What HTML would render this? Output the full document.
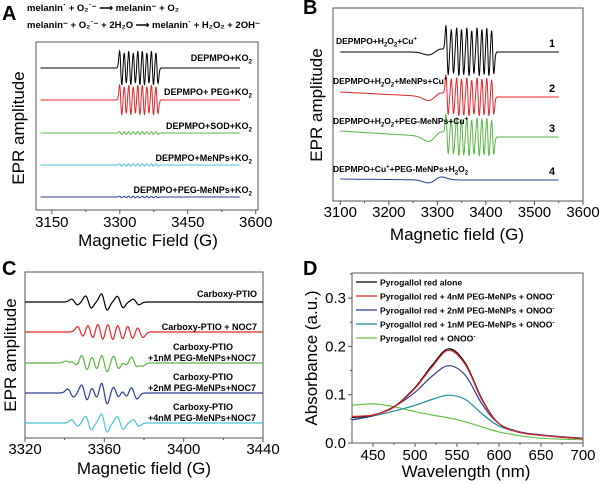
<!DOCTYPE html>
<html><head><meta charset="utf-8"><style>
html,body{margin:0;padding:0;background:#fff}
svg{display:block;font-family:"Liberation Sans",Arial,sans-serif}
.b{font-weight:bold}
</style></head><body>
<svg id="fig" width="600" height="484" viewBox="0 0 600 484" xmlns="http://www.w3.org/2000/svg">
<g>
<text x="2" y="20" font-size="20" class="b">A</text>
<text x="27" y="11" font-size="9.5" class="b">melanin˙ + O₂˙⁻ ⟶ melanin⁻ + O₂</text>
<text x="27" y="28" font-size="9.5" class="b">melanin⁻ + O₂˙⁻ + 2H₂O ⟶ melanin˙ + H₂O₂ + 2OH⁻</text>
</g>
<text x="3" y="14" font-size="20" class="b" transform="translate(300,0)">B</text>
<text x="2" y="275" font-size="20" class="b">C</text>
<text x="303" y="275" font-size="20" class="b">D</text>
<g id="plots"></g>
</svg>
<script>
// ---------- Panel A data ----------
const aLines = [3302,3312,3322,3332,3342,3352,3362,3372,3382];
const aIntensity = [1.0,0.9,1.0,0.9,1.0,1.0,0.9,1.0,0.9];
const aTraceAmp = [17,15,1.5,1.2,0.8];
const aLabels = ["DEPMPO+KO_2","DEPMPO+ PEG+KO_2","DEPMPO+SOD+KO_2","DEPMPO+MeNPs+KO_2","DEPMPO+PEG-MeNPs+KO_2"];
const aTicks = [3150,3300,3450,3600];
// ---------- Panel B data ----------
const bLines = [3320,3331,3342,3352,3363,3373,3384,3394,3404,3414];
const bIntensity = [1.0,0.9,1.0,0.95,1.0,0.9,1.0,0.95,1.0,0.9];
const bTraceAmp = [24,19,19,0];
const bBroadAmp = [3,4,5,3];
const bSlope = [0,5,6,1];
const bLabels = ["DEPMPO+H_2O_2+Cu^+","DEPMPO+H_2O_2+MeNPs+Cu^+","DEPMPO+H_2O_2+PEG-MeNPs+Cu^+","DEPMPO+Cu^++PEG-MeNPs+H_2O_2"];
const bTicks = [3100,3200,3300,3400,3500,3600];
// ---------- Panel C data ----------
const cBlackLines = [3345,3352,3360,3368,3376];
const cBlackAmp = [0.35,0.75,1.0,0.7,0.35];
const cRedLines = [3348,3353,3358,3363,3368,3373,3378];
const cRedAmp = [0.6,0.8,1.0,1.0,0.9,0.8,0.6];
const cGreenLines = [3342,3345,3350,3355,3360,3366,3370,3375,3378];
const cGreenAmp = [0.2,0.3,0.9,0.8,1.0,0.8,0.3,0.7,0.3];
const cBlueLines = [3343,3350,3355,3360,3366,3370,3375];
const cBlueAmp = [0.4,0.8,0.6,1.1,0.6,0.4,0.6];
const cLabels = [["Carboxy-PTIO"],["Carboxy-PTIO + NOC7"],["Carboxy-PTIO","+1nM PEG-MeNPs+NOC7"],["Carboxy-PTIO","+2nM PEG-MeNPs+NOC7"],["Carboxy-PTIO","+4nM PEG-MeNPs+NOC7"]];
const cTicks = [3320,3360,3400,3440];
// ---------- Panel D data ----------
const dWave = [425,450,475,500,520,540,560,580,600,625,650,675,700];
const dBlack = [0.053,0.058,0.075,0.115,0.160,0.195,0.165,0.090,0.040,0.022,0.016,0.012,0.009];
const dRed   = [0.055,0.058,0.074,0.113,0.157,0.192,0.162,0.088,0.040,0.022,0.016,0.012,0.009];
const dBlue  = [0.048,0.057,0.075,0.105,0.138,0.160,0.140,0.080,0.040,0.023,0.017,0.013,0.010];
const dTeal  = [0.048,0.056,0.066,0.078,0.090,0.099,0.090,0.060,0.035,0.022,0.016,0.012,0.010];
const dGreen = [0.078,0.081,0.075,0.065,0.058,0.052,0.044,0.033,0.023,0.015,0.010,0.008,0.007];
const dLegend = ["Pyrogallol red alone","Pyrogallol red + 4nM PEG-MeNPs + ONOO","Pyrogallol red + 2nM PEG-MeNPs + ONOO","Pyrogallol red + 1nM PEG-MeNPs + ONOO","Pyrogallol red + ONOO"];
const dXTicks = [450,500,550,600,650,700];
const dYTicks = [0.0,0.1,0.2,0.3];

const NS="http://www.w3.org/2000/svg";
const root=document.getElementById('plots');
function mk(tag,attrs,parent){const e=document.createElementNS(NS,tag);for(const k in attrs)e.setAttribute(k,attrs[k]);(parent||root).appendChild(e);return e;}
function deriv(x,lines,amps,w){let s=0;for(let i=0;i<lines.length;i++){const u=(x-lines[i])/w;s+=-amps[i]*u*Math.exp(-u*u/2)*1.65;}return s;}
function richText(parent,x,y,str,size,anchor){
  const t=mk('text',{x:x,y:y,'font-size':size,'font-weight':'bold','text-anchor':anchor||'end'},parent);
  let buf='', pending=0;
  const flush=()=>{if(buf){const a={};if(pending){a.dy=pending;pending=0;}const ts=mk('tspan',a,t);ts.textContent=buf;buf='';}};
  for(let i=0;i<str.length;i++){
    const c=str[i];
    if((c==='_'||c==='^')&&i+1<str.length){
      flush();
      const off=c==='_'?2.5:-3.5;
      const ts=mk('tspan',{dy:off+pending,'font-size':size*0.7},t);ts.textContent=str[i+1];
      pending=-off;
      i++;
    } else buf+=c;
  }
  flush();
  return t;
}
function box(g,x0,y0,x1,y1){mk('rect',{x:x0,y:y0,width:x1-x0,height:y1-y0,fill:'none',stroke:'#555','stroke-width':1},g);}
function xAxis(g,ticks,sx,yb,ly,size){
  ticks.forEach(v=>{mk('line',{x1:sx(v),x2:sx(v),y1:yb,y2:yb+4,stroke:'#555'},g);
    const t=mk('text',{x:sx(v),y:ly,'font-size':size,'text-anchor':'middle'},g);t.textContent=v;
    
    });
  for(let i=0;i<ticks.length-1;i++){const m=(ticks[i]+ticks[i+1])/2;mk('line',{x1:sx(m),x2:sx(m),y1:yb,y2:yb+2,stroke:'#555'},g);}
}
function pathFrom(pts){return pts.map((p,i)=>(i?'L':'M')+p[0].toFixed(1)+' '+p[1].toFixed(1)).join(' ');}

// ===== Panel A =====
(function(){
 const g=mk('g',{});
 
 
 const x0=36,x1=258,y0=42,y1=210,d0=3115,d1=3605;
 const sx=v=>x0+(v-d0)/(d1-d0)*(x1-x0);
 box(g,x0,y0,x1,y1);
 xAxis(g,aTicks,sx,y1,227,15);
 const cols=['#000','#e4262b','#5bb548','#4dc3d3','#2d3f94'];
 const base=[68,100,133,165,197];
 const ly=[61,95,129,161,193];
 aTraceAmp.forEach((amp,k)=>{
   const pts=[];for(let f=3125;f<=3565;f+=0.5){pts.push([sx(f),base[k]-amp*deriv(f,aLines,aIntensity,2.4)]);}
   const p=mk('path',{d:pathFrom(pts),fill:'none',stroke:cols[k],'stroke-width':1},g);
   
   
   const t=richText(g,252,ly[k],aLabels[k],9);
   
   
 });
 const yt=mk('text',{x:0,y:0,'font-size':17,'text-anchor':'middle',transform:'translate(24,128) rotate(-90)'},g);yt.textContent='EPR amplitude';
 
 
 const xt=mk('text',{x:148,y:246,'font-size':17,'text-anchor':'middle'},g);xt.textContent='Magnetic Field (G)';
 
 
})();

// ===== Panel B =====
(function(){
 const g=mk('g',{});
 
 
 const x0=333,x1=583,y0=8,y1=201,d0=3085,d1=3600;
 const sx=v=>x0+(v-d0)/(d1-d0)*(x1-x0);
 box(g,x0,y0,x1,y1);
 xAxis(g,bTicks,sx,y1,217,15);
 const cols=['#000','#e4262b','#5bb548','#2d3f94'];
 const base=[52,97,137,180];
 const ly=[44,84,124,172];
 bTraceAmp.forEach((amp,k)=>{
   const pts=[];for(let f=3100;f<=3550;f+=0.5){
     const u=(f-3295)/14;
     const broad=bBroadAmp[k]*(-u)*Math.exp(-(u*u)/2)*1.65;
     const slope=f<3300?bSlope[k]*(3300-f)/200:0;
     pts.push([sx(f),base[k]-amp*deriv(f,bLines,bIntensity,2.3)+broad-slope]);}
   const p=mk('path',{d:pathFrom(pts),fill:'none',stroke:cols[k],'stroke-width':1},g);
   
   
   const t=richText(g,k===0?336:333,ly[k],bLabels[k],8.5,'start');
   
   
   const n=mk('text',{x:552,y:base[k]-5,'font-size':11,'font-weight':'bold','text-anchor':'middle'},g);n.textContent=(k+1);
   
   
 });
 const yt=mk('text',{x:0,y:0,'font-size':17,'text-anchor':'middle',transform:'translate(322,105) rotate(-90)'},g);yt.textContent='EPR amplitude';
 
 
 const xt=mk('text',{x:457,y:240,'font-size':17,'text-anchor':'middle'},g);xt.textContent='Magnetic field (G)';
 
 
})();

// ===== Panel C =====
(function(){
 const g=mk('g',{});
 
 
 const x0=25,x1=263,y0=272,y1=438,d0=3320,d1=3440;
 const sx=v=>x0+(v-d0)/(d1-d0)*(x1-x0);
 box(g,x0,y0,x1,y1);
 xAxis(g,cTicks,sx,y1,454,15);
 const cols=['#000','#e4262b','#5bb548','#2d3f94','#4dc3d3'];
 const base=[302,332,363,393,423];
 const sets=[[cBlackLines,cBlackAmp,8],[cRedLines,cRedAmp,9],[cGreenLines,cGreenAmp,9],[cBlueLines,cBlueAmp,10],[cBlackLines,cBlackAmp,9]];
 sets.forEach((s,k)=>{
   const pts=[];for(let f=3320;f<=3440;f+=0.2){pts.push([sx(f),base[k]-s[2]*deriv(f,s[0],s[1],1.5)]);}
   const p=mk('path',{d:pathFrom(pts),fill:'none',stroke:cols[k],'stroke-width':1.2},g);
   
   
   const L=cLabels[k];
   L.forEach((line,j)=>{
     let x,y,anc;
     if(L.length===1){x=257;anc='end';y=k===0?base[k]-5:base[k]-2;}
     else{x=j===0?203:202;anc='middle';y=base[k]-13+j*11;}
     const t=mk('text',{x:x,y:y,'font-size':9,'font-weight':'bold','text-anchor':anc},g);t.textContent=line;
     
     
   });
 });
 const yt=mk('text',{x:0,y:0,'font-size':17,'text-anchor':'middle',transform:'translate(16,355) rotate(-90)'},g);yt.textContent='EPR amplitude';
 
 
 const xt=mk('text',{x:144,y:474,'font-size':17,'text-anchor':'middle'},g);xt.textContent='Magnetic field (G)';
 
 
})();

// ===== Panel D =====
(function(){
 const g=mk('g',{});
 
 
 const x0=352,x1=583,y0=273,y1=443,d0=425,d1=700,v0=0,v1=0.352;
 const sx=v=>x0+(v-d0)/(d1-d0)*(x1-x0);
 const sy=v=>y1-(v-v0)/(v1-v0)*(y1-y0);
 box(g,x0,y0,x1,y1);
 xAxis(g,dXTicks,sx,y1,460,15);
 dYTicks.forEach(v=>{mk('line',{x1:x0-4,x2:x0,y1:sy(v),y2:sy(v),stroke:'#555'},g);
   mk('line',{x1:x0-2,x2:x0,y1:sy(v+0.05),y2:sy(v+0.05),stroke:'#555'},g);
   const t=mk('text',{x:x0-6,y:sy(v)+5,'font-size':15,'text-anchor':'end'},g);t.textContent=v.toFixed(1);
   
   });
 const series=[dGreen,dTeal,dBlue,dBlack,dRed];
 const cols=['#6cc04a','#1f8f95','#2d3f94','#000','#e4262b'];
 series.forEach((arr,k)=>{
   const P=dWave.map((w,i)=>[sx(w),sy(arr[i])]);
   let d='M'+P[0][0].toFixed(1)+' '+P[0][1].toFixed(1);
   for(let i=0;i<P.length-1;i++){const p0=P[Math.max(0,i-1)],p1=P[i],p2=P[i+1],p3=P[Math.min(P.length-1,i+2)];
     d+=' C'+(p1[0]+(p2[0]-p0[0])/6).toFixed(1)+' '+(p1[1]+(p2[1]-p0[1])/6).toFixed(1)+' '+(p2[0]-(p3[0]-p1[0])/6).toFixed(1)+' '+(p2[1]-(p3[1]-p1[1])/6).toFixed(1)+' '+p2[0].toFixed(1)+' '+p2[1].toFixed(1);}
   const p=mk('path',{d:d,fill:'none',stroke:cols[k],'stroke-width':1.2},g);
   
   
 });
 const lc=['#000','#e4262b','#2d3f94','#1f8f95','#6cc04a'];
 dLegend.forEach((s,k)=>{
   const y=282+k*14;
   const l=mk('line',{x1:356,x2:377,y1:y,y2:y,stroke:lc[k],'stroke-width':1.3},g);
   
   
   const t=mk('text',{x:380,y:y+3.5,'font-size':8.6,'font-weight':'bold'},g);t.textContent=s;
   if(k>0){const sp=mk('tspan',{'baseline-shift':'super','font-size':6},t);sp.textContent='-';}
   
   
 });
 const yt=mk('text',{x:0,y:0,'font-size':17,'text-anchor':'middle',transform:'translate(317,358) rotate(-90)'},g);yt.textContent='Absorbance (a.u.)';
 
 
 const xt=mk('text',{x:466,y:477,'font-size':17,'text-anchor':'middle'},g);xt.textContent='Wavelength (nm)';
 
 
})();
</script>
</body></html>
